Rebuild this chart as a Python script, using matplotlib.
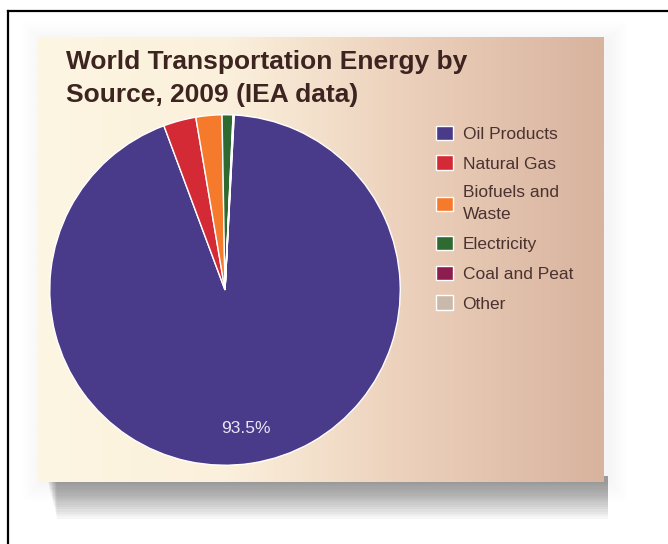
import numpy as np
import matplotlib
matplotlib.use("Agg")
import matplotlib.pyplot as plt
from matplotlib.patches import Rectangle
from matplotlib.lines import Line2D
from matplotlib.colors import LinearSegmentedColormap

plt.rcParams['font.family'] = ['Liberation Sans', 'DejaVu Sans']

# Data
sources = ["Oil Products", "Natural Gas", "Biofuels and\nWaste", "Electricity",
           "Coal and Peat", "Other"]
shares = [93.5, 3.0, 2.4, 1.0, 0.05, 0.05]
colors = ["#4a3b8a", "#d32a36", "#f57a2c", "#2f6b30", "#8c1d4e", "#c9b9aa"]
title = "World Transportation Energy by\nSource, 2009 (IEA data)"

W, H = 668, 544
fig = plt.figure(figsize=(W / 100, H / 100), dpi=100)
fig.patch.set_facecolor("white")

def fx(px):
    return px / W

def fy(py):
    return 1 - py / H

# panel position in pixels
pl, pt, pr, pb = 38, 37, 604, 482

# faint halo round the panel
for i in range(10):
    g = 1 + i * 2
    fig.patches.append(Rectangle((fx(pl - g + 4), fy(pb + g)), fx(pr - pl + 2 * g),
                                 (pb - pt + 2 * g - 4) / H,
                                 transform=fig.transFigure, facecolor="#8a8a8a",
                                 alpha=0.009, edgecolor="none", zorder=0))
# soft shadow under the panel
for i in range(16):
    off = 2 + i * 2.3
    fig.patches.append(Rectangle((fx(pl + 10 + i * 0.6), fy(pb + off)),
                                 fx(pr - pl - 6 - i * 0.6), (off + 6) / H,
                                 transform=fig.transFigure, facecolor="#5e5e5e",
                                 alpha=0.05, edgecolor="none", zorder=0))

# panel background (warm gradient like the photographed slide)
bg = fig.add_axes([fx(pl), fy(pb), fx(pr - pl), (pb - pt) / H], zorder=1)
cmap = LinearSegmentedColormap.from_list("paper", ["#fdf6e2", "#fbf0dc", "#ebcfba", "#d8b39e"])
grad = np.linspace(0, 1, 256).reshape(1, -1)
bg.imshow(grad, aspect="auto", cmap=cmap, extent=(0, 1, 0, 1))
bg.set_axis_off()

# black frame lines on left and top
fig.add_artist(Line2D([fx(8), fx(8)], [0, fy(11)], color="black", lw=1.6,
                      transform=fig.transFigure))
fig.add_artist(Line2D([fx(8), 1], [fy(11), fy(11)], color="black", lw=1.6,
                      transform=fig.transFigure))

# pie
cx, cy, r = 225, 290, 177
ax = fig.add_axes([fx(cx - r), fy(cy + r), fx(2 * r), 2 * r / H], zorder=2)
ax.patch.set_alpha(0)

wedges, texts, autotexts = ax.pie(
    shares, colors=colors, startangle=87, counterclock=False,
    autopct=lambda p: f"{p:.1f}%" if p > 50 else "",
    pctdistance=0.8, wedgeprops=dict(edgecolor="white", linewidth=1.0),
    textprops=dict(color="#ece6f4", fontsize=12.5))
ax.set_xlim(-1.01, 1.01)
ax.set_ylim(-1.01, 1.01)
ax.set_aspect("equal")

fig.text(fx(66), fy(102), title, fontsize=19, fontweight="bold", color="#3d2420",
         ha="left", va="baseline", linespacing=1.5, zorder=3)

leg = fig.legend(wedges, sources, loc="upper left",
                 bbox_to_anchor=(fx(420), fy(110)), frameon=False,
                 fontsize=12.5, handlelength=1.0, handleheight=0.9,
                 handletextpad=0.55, labelspacing=0.78)
for t in leg.get_texts():
    t.set_color("#4a3230")
    t.set_linespacing(1.6)
leg.set_zorder(4)

fig.savefig("out.png", dpi=100)
